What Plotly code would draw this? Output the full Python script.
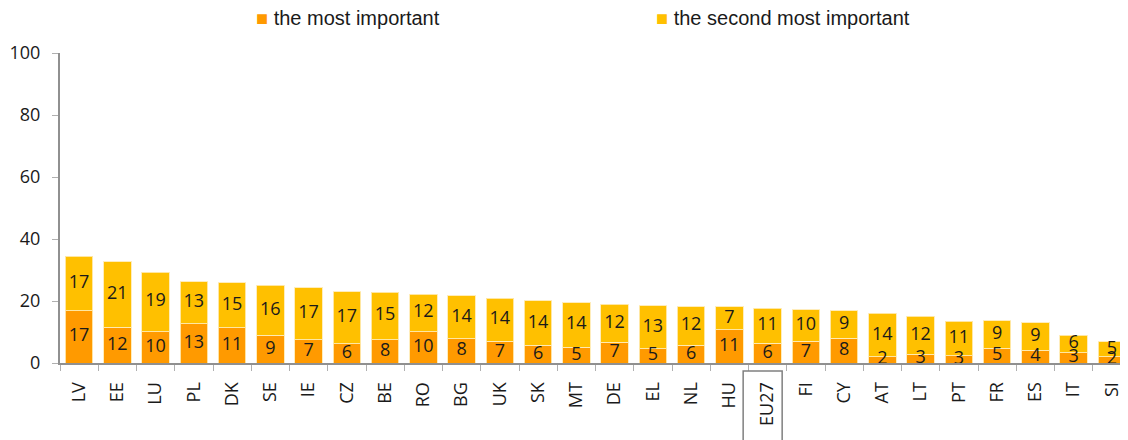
import plotly.graph_objects as go

countries = ["LV", "EE", "LU", "PL", "DK", "SE", "IE", "CZ", "BE", "RO", "BG", "UK", "SK", "MT",
             "DE", "EL", "NL", "HU", "EU27", "FI", "CY", "AT", "LT", "PT", "FR", "ES", "IT", "SI"]

# bar heights (%)
most_important = [16.8, 11.6, 10.1, 12.6, 11.3, 9.0, 7.5, 6.2, 7.5, 10.1, 7.8, 7.0, 5.7, 5.1,
                  6.7, 4.6, 5.7, 10.7, 6.3, 7.0, 8.0, 2.0, 2.8, 2.3, 4.7, 4.1, 3.3, 2.0]
total = [34.5, 32.6, 29.3, 26.2, 25.9, 25.1, 24.3, 23.0, 22.9, 22.2, 21.7, 20.9, 20.1, 19.5,
         19.0, 18.4, 18.2, 18.2, 17.6, 17.1, 16.8, 16.0, 15.1, 13.5, 13.6, 13.0, 9.0, 6.8]
second_important = [round(t - m, 1) for t, m in zip(total, most_important)]

# data labels as printed on the chart
most_labels = [17, 12, 10, 13, 11, 9, 7, 6, 8, 10, 8, 7, 6, 5, 7, 5, 6, 11, 6, 7, 8, 2, 3, 3, 5, 4, 3, 2]
second_labels = [17, 21, 19, 13, 15, 16, 17, 17, 15, 12, 14, 14, 14, 14, 12, 13, 12, 7, 11, 10, 9,
                 14, 12, 11, 9, 9, 6, 5]

y_ticks = [0, 20, 40, 60, 80, 100]

ORANGE = "#FF9A00"
YELLOW = "#FFC000"
FONT = "Open Sans"
TXT = "#1a1a1a"

fig = go.Figure()
fig.add_trace(go.Bar(
    x=countries, y=most_important, name="the most important",
    marker=dict(color=ORANGE, line=dict(color="rgba(255,235,180,0.9)", width=1)),
    showlegend=False, hoverinfo="skip",
))
fig.add_trace(go.Bar(
    x=countries, y=second_important, name="the second most important",
    marker=dict(color=YELLOW, line=dict(color="rgba(255,235,180,0.9)", width=1)),
    showlegend=False, hoverinfo="skip",
))

# segment labels drawn on top of the bars, centred in each segment
fig.add_trace(go.Scatter(
    x=countries, y=[m / 2 for m in most_important], mode="text",
    text=[str(v) for v in most_labels], textposition="middle center",
    textfont=dict(family=FONT, size=18, color=TXT), cliponaxis=False, showlegend=False,
))
fig.add_trace(go.Scatter(
    x=countries, y=[m + s / 2 for m, s in zip(most_important, second_important)], mode="text",
    text=[str(v) for v in second_labels], textposition="middle center",
    textfont=dict(family=FONT, size=18, color=TXT), cliponaxis=False, showlegend=False,
))

# legend drawn as text annotations
fig.add_annotation(x=0.181, y=1.113, xref="paper", yref="paper", xanchor="left", yanchor="middle",
                   showarrow=False,
                   text=f'<span style="color:{ORANGE}">■</span> the most important',
                   font=dict(family="Liberation Sans Narrow, Liberation Sans", size=20, color=TXT))
fig.add_annotation(x=0.5546, y=1.113, xref="paper", yref="paper", xanchor="left", yanchor="middle",
                   showarrow=False,
                   text=f'<span style="color:{YELLOW}">■</span> the second most important',
                   font=dict(family="Liberation Sans Narrow, Liberation Sans", size=20, color=TXT))

# box around EU27 label
eu_idx = countries.index("EU27")
fig.add_shape(type="rect", xref="x", yref="paper", x0=eu_idx - 0.64, x1=eu_idx + 0.38,
              y0=-0.33, y1=-0.026, line=dict(color="#808080", width=1.5), fillcolor="rgba(0,0,0,0)")

fig.update_layout(
    width=1128, height=440,
    barmode="stack", bargap=0.28,
    margin=dict(l=52, r=5, t=45, b=85, autoexpand=False),
    paper_bgcolor="white", plot_bgcolor="white",
    font=dict(family=FONT, size=18, color=TXT),
    xaxis=dict(
        type="category", range=[-0.5, len(countries) - 0.5], automargin=False,
        showline=True, linecolor="#909090", linewidth=2,
        ticks="outside", tickson="boundaries", ticklen=6, tickcolor="#b0b0b0",
        tickangle=-90, tickfont=dict(family=FONT, size=18, color=TXT),
        ticklabelstandoff=10, showgrid=False,
    ),
    yaxis=dict(
        range=[0, 100], tickvals=y_ticks, automargin=False,
        showline=True, linecolor="#909090", linewidth=2,
        ticks="outside", ticklen=6, tickcolor="#b0b0b0",
        tickfont=dict(family=FONT, size=18, color=TXT),
        ticklabelstandoff=8, showgrid=False, zeroline=False,
    ),
)

fig.write_html("out.html")
